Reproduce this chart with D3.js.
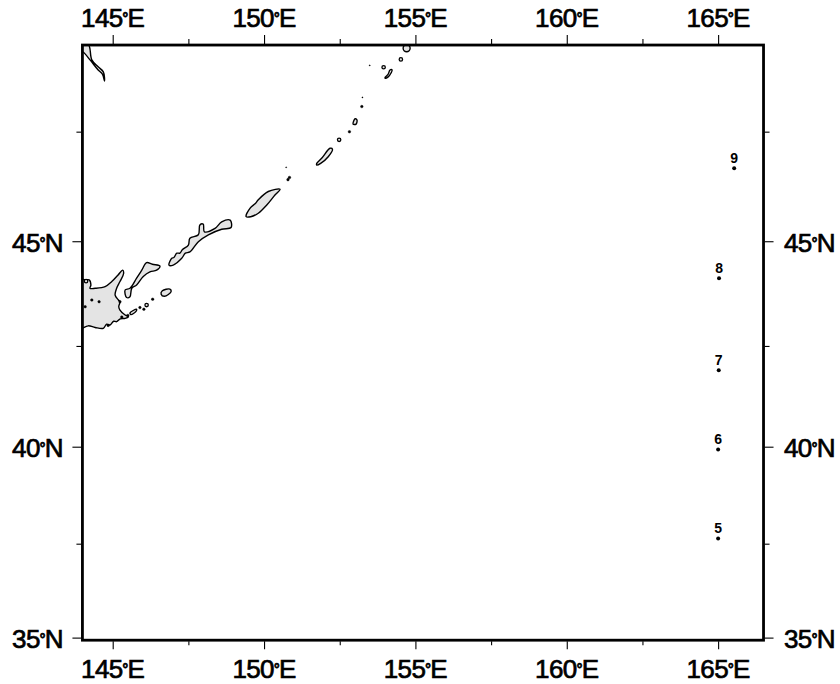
<!DOCTYPE html>
<html>
<head>
<meta charset="utf-8">
<script src="https://cdn.jsdelivr.net/npm/d3@7"></script>
<style>
  html, body { margin: 0; padding: 0; background: #fff; }
  text { font-family: "Liberation Sans", Arial, sans-serif; fill: #000; }
  .tick line { stroke: #000; stroke-width: 1.1; }
</style>
</head>
<body>
<div id="chart"></div>
<script>
// map window and ticks (degrees)
const lonMajor = [145, 150, 155, 160, 165];
const lonMinor = [147.5, 152.5, 157.5, 162.5];
const latMajor = [35, 40, 45];
const latMinor = [37.5, 42.5, 47.5];
const lonExtent = [144, 166.5];
const latExtent = [34.93, 49.4];

// stations
const stationLabels = ['5', '6', '7', '8', '9'];
const stationLon = [165.0, 165.0, 165.02, 165.03, 165.53];
const stationLat = [37.64, 39.93, 41.91, 44.13, 46.68];

// coastlines, [lon, lat]
const hokkaido = [[143.85,44.09],[144.1,44.09],[144.22,44.09],[144.28,43.97],[144.25,43.89],[144.42,43.89],[144.75,43.93],[144.97,44.05],[145.17,44.2],[145.33,44.32],[145.36,44.24],[145.24,44.05],[145.13,43.89],[145.08,43.73],[145.19,43.61],[145.24,43.57],[145.2,43.45],[145.24,43.37],[145.41,43.25],[145.52,43.21],[145.41,43.17],[145.25,43.16],[145.13,43.09],[145.03,43.1],[144.91,43.01],[144.8,43.03],[144.69,42.93],[144.42,42.95],[144.19,42.99],[143.85,42.91]];
const kunashir = [[145.41,43.85],[145.57,43.89],[145.79,44.13],[145.96,44.32],[146.12,44.5],[146.31,44.46],[146.56,44.42],[146.45,44.32],[146.23,44.28],[146.01,44.17],[145.79,43.97],[145.63,43.89],[145.57,43.69],[145.46,43.67]];
const iturup = [[146.86,44.44],[146.95,44.6],[147.02,44.62],[147.12,44.72],[147.22,44.72],[147.3,44.8],[147.5,44.91],[147.55,45.07],[147.83,45.15],[147.88,45.38],[147.99,45.4],[148.03,45.22],[148.38,45.3],[148.6,45.45],[148.88,45.49],[148.91,45.32],[148.6,45.28],[148.16,45.15],[147.83,44.99],[147.55,44.75],[147.4,44.72],[147.28,44.6],[147.0,44.44]];
const urup = [[149.41,45.57],[149.54,45.77],[149.72,45.88],[149.81,45.96],[150.14,46.15],[150.53,46.2],[150.36,46.07],[150.09,45.84],[149.81,45.65],[149.56,45.57]];
const simushir = [[151.74,46.79],[151.91,46.91],[152.18,47.13],[152.26,47.11],[152.12,46.94],[151.87,46.79],[151.74,46.75]];
const rasshua = [[152.94,47.67],[153.01,47.79],[153.07,47.76],[153.04,47.67]];
const shiashkotan = [[154.0,48.7],[154.1,48.77],[154.16,48.86],[154.23,48.86],[154.2,48.8],[154.1,48.71],[154.0,48.68]];
const shikotan = [[146.6,43.75],[146.64,43.83],[146.89,43.87],[146.93,43.81],[146.71,43.7]];
const habomai = [[145.57,43.3],[145.79,43.39],[145.77,43.34],[145.6,43.26]];
const sakhalin = [[143.85,49.42],[144.19,49.42],[144.31,49.08],[144.52,48.93],[144.69,48.82],[144.73,48.62],[144.66,48.77],[144.52,48.86],[144.25,49.08],[144.02,49.25],[143.85,49.29]];
const islands = [hokkaido, kunashir, iturup, urup, simushir, rasshua, shiashkotan, shikotan, habomai, sakhalin];

// islets too small to outline
const ringIslets = [[152.48,47.32],[153.95,48.92],[154.52,49.09],[146.12,43.49],[144.12,44.06]];
const bigRingIslets = [[154.71,49.33]];
const dotIslets = [[153.23,48.06],[150.84,46.47],[150.79,46.42],[152.82,47.5],[146.32,43.63],[145.9,43.43],[146.03,43.39],[144.31,43.61],[144.55,43.57],[144.09,43.45],[145.24,43.57],[145.3,43.2],[145.5,43.24],[144.85,43.0]];
const specks = [[150.73,46.7],[153.25,48.26],[153.49,48.96]];

const width = 840, height = 684;

const svg = d3.select('#chart').append('svg')
  .attr('width', width)
  .attr('height', height)
  .style('display', 'block');

// Mercator, fixed on 145E / 40N
const projection = d3.geoMercator().scale(1734.4).translate([0, 0]);
const offset = projection([145, 40]);
projection.translate([112.7 - offset[0], 446.7 - offset[1]]);

const px = d => projection([d, 40])[0];
const py = d => projection([145, d])[1];

const x = d3.scaleLinear().domain(lonExtent).range(lonExtent.map(px));
// axis needs a scale, so latitudes are pinned piecewise to the projection
const latStops = [latExtent[0]].concat(d3.range(35, 50), [latExtent[1]]);
const y = d3.scaleLinear().domain(latStops).range(latStops.map(py));

const left = x(lonExtent[0]), right = x(lonExtent[1]);
const top_ = y(latExtent[1]), bottom = y(latExtent[0]);

svg.append('clipPath').attr('id', 'map')
  .append('rect')
  .attr('x', left).attr('y', top_)
  .attr('width', right - left).attr('height', bottom - top_);

const land = svg.append('g').attr('clip-path', 'url(#map)');

const coast = d3.line()
  .x(d => projection(d)[0])
  .y(d => projection(d)[1])
  .curve(d3.curveCatmullRomClosed.alpha(0.5));

land.selectAll('path.island')
  .data(islands)
  .enter().append('path')
  .attr('class', 'island')
  .attr('d', coast)
  .attr('fill', '#e4e4e4')
  .attr('stroke', '#000')
  .attr('stroke-width', 1.4)
  .attr('stroke-linejoin', 'round');

function islets(data, r, fill, sw) {
  land.append('g').selectAll('circle')
    .data(data)
    .enter().append('circle')
    .attr('cx', d => projection(d)[0])
    .attr('cy', d => projection(d)[1])
    .attr('r', r)
    .attr('fill', fill)
    .attr('stroke', '#000')
    .attr('stroke-width', sw);
}
islets(ringIslets, 1.7, '#e4e4e4', 1.3);
islets(bigRingIslets, 3.5, '#e4e4e4', 1.4);
islets(dotIslets, 1.3, '#000', 0.4);
islets(specks, 0.6, '#000', 0.3);

// stations
const stations = stationLabels.map((label, i) => ({ label, lon: stationLon[i], lat: stationLat[i] }));

svg.append('g').selectAll('circle')
  .data(stations)
  .enter().append('circle')
  .attr('cx', d => projection([d.lon, d.lat])[0])
  .attr('cy', d => projection([d.lon, d.lat])[1])
  .attr('r', 2)
  .attr('fill', '#000');

svg.append('g').selectAll('text')
  .data(stations)
  .enter().append('text')
  .attr('x', d => projection([d.lon, d.lat])[0])
  .attr('y', d => projection([d.lon, d.lat])[1] - 5.2)
  .attr('text-anchor', 'middle')
  .attr('font-size', 14)
  .attr('font-weight', 'bold')
  .text(d => d.label);

// ticks
function ticks(axis, values, size, pos) {
  svg.append('g')
    .attr('transform', pos)
    .call(axis.tickValues(values).tickSize(size).tickFormat(''))
    .call(g => g.select('.domain').remove());
}
ticks(d3.axisTop(x), lonMajor, 9, `translate(0,${top_ - 1})`);
ticks(d3.axisTop(x), lonMinor, 5, `translate(0,${top_ - 1})`);
ticks(d3.axisBottom(x), lonMajor, 8, `translate(0,${bottom + 1})`);
ticks(d3.axisBottom(x), lonMinor, 4, `translate(0,${bottom + 1})`);
ticks(d3.axisLeft(y), latMajor, 9, `translate(${left - 1},0)`);
ticks(d3.axisLeft(y), latMinor, 5, `translate(${left - 1},0)`);
ticks(d3.axisRight(y), latMajor, 9, `translate(${right + 1},0)`);
ticks(d3.axisRight(y), latMinor, 5, `translate(${right + 1},0)`);

// frame
svg.append('rect')
  .attr('x', left).attr('y', top_)
  .attr('width', right - left).attr('height', bottom - top_)
  .attr('fill', 'none')
  .attr('stroke', '#000')
  .attr('stroke-width', 2.8);

// tick labels
function degLabel(sel, num, hemi) {
  sel.attr('font-size', 26)
    .attr('stroke', '#000')
    .attr('stroke-width', 0.7)
    .style('letter-spacing', '-0.6px');
  sel.append('tspan').text(num);
  sel.append('tspan').attr('font-size', 14).attr('font-weight', 'bold').attr('dy', -4).text('°');
  sel.append('tspan').attr('dy', 4).text(hemi);
}

lonMajor.forEach(d => {
  [26.5, 677.5].forEach(yy => {
    svg.append('text')
      .attr('x', x(d))
      .attr('y', yy)
      .attr('text-anchor', 'middle')
      .call(degLabel, d, 'E');
  });
});
latMajor.forEach(d => {
  svg.append('text')
    .attr('x', 63)
    .attr('y', y(d) + 10.5)
    .attr('text-anchor', 'end')
    .call(degLabel, d, 'N');
  svg.append('text')
    .attr('x', 784)
    .attr('y', y(d) + 10.5)
    .attr('text-anchor', 'start')
    .call(degLabel, d, 'N');
});
</script>
</body>
</html>
